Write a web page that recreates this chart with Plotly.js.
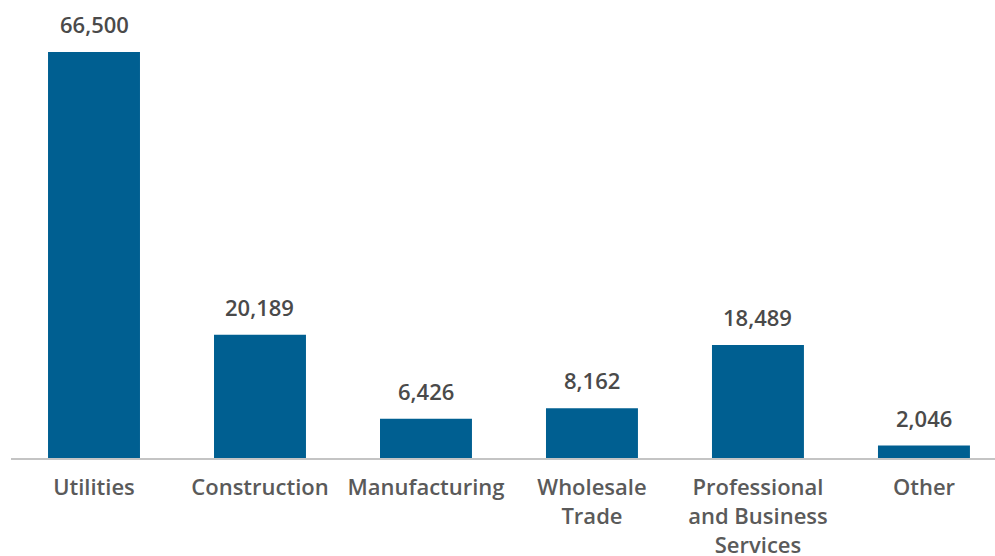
<!DOCTYPE html>
<html><head><meta charset="utf-8">
<script src="https://cdn.plot.ly/plotly-3.0.1.min.js"></script>
<style>html,body{margin:0;padding:0;background:#fff;overflow:hidden}</style>
</head><body><div id="chart" style="width:995px;height:556px"></div>
<script>
var categories = ["Utilities", "Construction", "Manufacturing", "Wholesale<br>Trade", "Professional<br>and Business<br>Services", "Other"];
var values = [66500, 20189, 6426, 8162, 18489, 2046];
var valueLabels = ["66,500", "20,189", "6,426", "8,162", "18,489", "2,046"];

var trace = {
  type: "bar",
  x: categories,
  y: values,
  marker: {color: "#005F91"},
  hoverinfo: "none"
};
var annotations = categories.map(function(c, i){
  return {x: c, y: values[i], text: valueLabels[i], showarrow: false, yanchor: "bottom", yshift: 11,
    font: {family: "Open Sans, sans-serif", size: 22, weight: 600, color: "#4a4a4a"}};
});
var layout = {
  width: 995, height: 556,
  margin: {l: 11, r: 0, t: 52, b: 98},
  showlegend: false,
  bargap: 0.446,
  plot_bgcolor: "#fff", paper_bgcolor: "#fff",
  xaxis: {range: [-0.5, 5.428], showline: true, linecolor: "#c4c4c4", linewidth: 2, ticks: "", showgrid: false,
    ticklabelstandoff: 9,
    tickfont: {family: "Open Sans, sans-serif", size: 22, weight: 600, color: "#5a5a5a"}, fixedrange: true},
  yaxis: {range: [0, 66500], visible: false, showgrid: false, zeroline: false, fixedrange: true},
  annotations: annotations
};
Plotly.newPlot("chart", [trace], layout, {displayModeBar: false, staticPlot: true});
</script></body></html>
